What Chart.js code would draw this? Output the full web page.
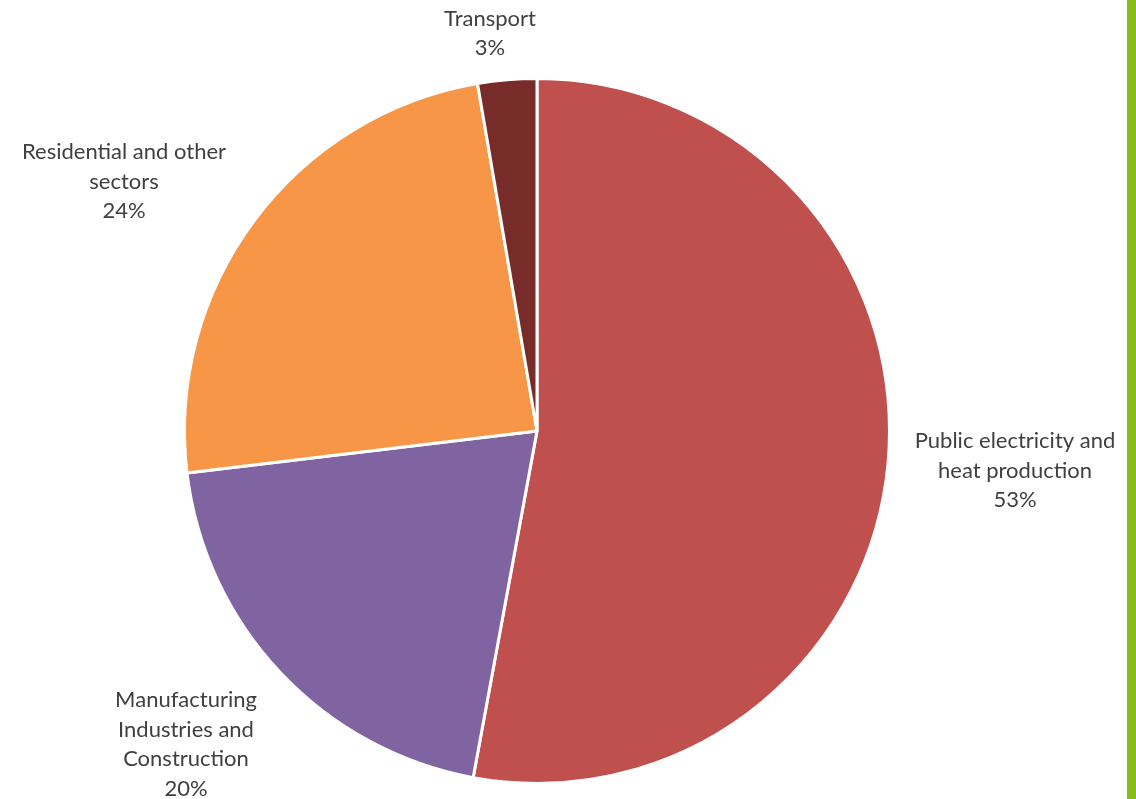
<!DOCTYPE html>
<html>
<head>
<meta charset="utf-8">
<script src="https://cdn.jsdelivr.net/npm/chart.js@4.4.0/dist/chart.umd.min.js"></script>
<style>
    html, body { margin: 0; padding: 0; background: #fff; }
    #wrap { position: relative; width: 1136px; height: 799px; overflow: hidden; }
    #bar { position: absolute; left: 1127px; top: 0; width: 9px; height: 799px; background: #8ABA18; }
</style>
</head>
<body>
<div id="wrap">
    <canvas id="sectorChart" width="1136" height="799"></canvas>
    <div id="bar"></div>
</div>
<script>
const sectors = ['Public electricity and heat production', 'Manufacturing Industries and Construction', 'Residential and other sectors', 'Transport'];
const shares = [52.9, 20.2, 24.2, 2.7];
const labelLines = [
    ['Public electricity and', 'heat production'],
    ['Manufacturing', 'Industries and', 'Construction'],
    ['Residential and other', 'sectors'],
    ['Transport']
];
const sliceColors = ['#C0504D', '#8064A2', '#F79646', '#772C2A'];

// where Excel put each label (text block centre)
const labelCentres = [[1015, 470.5], [186, 744.5], [124, 181.5], [490, 33.5]];

const outsideLabels = {
    id: 'outsideLabels',
    afterDatasetsDraw(chart) {
        const ctx = chart.ctx;
        const total = shares.reduce((a, b) => a + b, 0);
        ctx.save();
        ctx.font = '22px Lato, "Open Sans", sans-serif';
        ctx.fillStyle = '#404040';
        ctx.textAlign = 'center';
        ctx.textBaseline = 'middle';
        const lh = 29.5;
        chart.getDatasetMeta(0).data.forEach((arc, i) => {
            const lines = labelLines[i].concat([Math.round(shares[i] / total * 100) + '%']);
            const [cx, cy] = labelCentres[i];
            const y0 = cy - (lines.length - 1) * lh / 2;
            lines.forEach((t, j) => ctx.fillText(t, cx, y0 + j * lh));
        });
        ctx.restore();
    }
};

const ctx = document.getElementById('sectorChart').getContext('2d');
new Chart(ctx, {
    type: 'pie',
    data: {
        labels: sectors,
        datasets: [{
            data: shares,
            backgroundColor: sliceColors,
            borderColor: '#ffffff',
            borderWidth: 3
        }]
    },
    options: {
        responsive: false,
        animation: false,
        layout: {padding: {left: 183, top: 77, right: 245, bottom: 14}},
        plugins: {
            legend: {display: false},
            tooltip: {enabled: false}
        }
    },
    plugins: [outsideLabels]
});
</script>
</body>
</html>
